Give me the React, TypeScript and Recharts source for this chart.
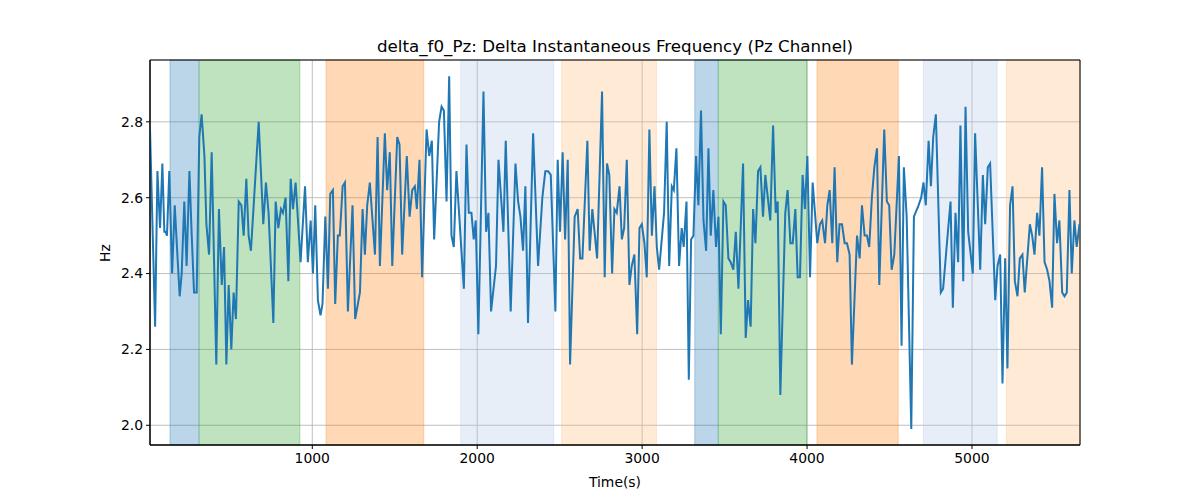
import { LineChart, Line, XAxis, YAxis, CartesianGrid, ReferenceArea } from 'recharts';

// time stamps (s) and delta frequency (Hz)
const times = [
  16, 47, 61, 77, 91, 103, 111, 119, 133, 150, 166, 182, 196, 208, 224, 238, 255, 269, 283, 299,
  315, 329, 346, 358, 374, 390, 418, 434, 451, 465, 479, 493, 509, 523, 537, 554, 570, 584, 600, 614,
  628, 675, 703, 719, 735, 764, 778, 794, 810, 822, 838, 855, 869, 883, 899, 929, 956, 973, 990, 1004,
  1018, 1034, 1050, 1062, 1079, 1095, 1109, 1125, 1139, 1155, 1167, 1184, 1198, 1216, 1244, 1260, 1289, 1305, 1319, 1333,
  1349, 1380, 1396, 1410, 1440, 1454, 1470, 1485, 1515, 1529, 1545, 1573, 1590, 1606, 1622, 1634, 1650, 1666, 1693, 1709,
  1725, 1739, 1769, 1784, 1798, 1814, 1830, 1844, 1858, 1874, 1919, 1935, 1949, 1965, 1979, 1991, 2007, 2038, 2054, 2068,
  2084, 2114, 2129, 2159, 2173, 2203, 2232, 2248, 2262, 2278, 2292, 2308, 2339, 2369, 2395, 2413, 2430, 2446, 2474, 2488,
  2502, 2518, 2533, 2549, 2563, 2591, 2609, 2624, 2638, 2668, 2682, 2698, 2727, 2757, 2773, 2787, 2801, 2818, 2832, 2846,
  2863, 2877, 2891, 2907, 2923, 2937, 2953, 2970, 2984, 2998, 3014, 3028, 3044, 3059, 3075, 3089, 3103, 3133, 3149, 3164,
  3180, 3192, 3208, 3224, 3240, 3252, 3269, 3283, 3297, 3311, 3327, 3341, 3357, 3372, 3388, 3402, 3416, 3432, 3448, 3463,
  3477, 3493, 3507, 3523, 3537, 3553, 3568, 3584, 3612, 3628, 3642, 3658, 3673, 3687, 3703, 3717, 3733, 3747, 3777, 3794,
  3810, 3822, 3838, 3868, 3882, 3899, 3913, 3929, 3943, 3957, 3973, 3987, 4002, 4018, 4034, 4048, 4062, 4078, 4092, 4109,
  4123, 4137, 4153, 4167, 4183, 4197, 4212, 4228, 4242, 4258, 4272, 4303, 4319, 4333, 4349, 4363, 4377, 4393, 4408, 4424,
  4438, 4468, 4484, 4498, 4513, 4529, 4557, 4573, 4587, 4604, 4632, 4648, 4676, 4692, 4706, 4720, 4737, 4751, 4765, 4781,
  4811, 4825, 4856, 4870, 4884, 4900, 4916, 4930, 4947, 4961, 4977, 5005, 5019, 5050, 5066, 5080, 5096, 5110, 5141, 5155,
  5171, 5185, 5201, 5215, 5231, 5246, 5260, 5276, 5290, 5306, 5320, 5351, 5365, 5379, 5395, 5409, 5425, 5440, 5456, 5470,
  5486, 5500, 5516, 5530, 5547, 5561, 5575, 5591, 5605, 5621, 5635, 5652,
];

const hzValues = [
  2.78, 2.26, 2.67, 2.52, 2.69, 2.51, 2.51, 2.50, 2.67, 2.40, 2.58, 2.45, 2.34, 2.40, 2.59, 2.42, 2.67, 2.50, 2.35, 2.35,
  2.76, 2.82, 2.71, 2.53, 2.45, 2.72, 2.16, 2.57, 2.37, 2.47, 2.16, 2.37, 2.20, 2.35, 2.28, 2.59, 2.58, 2.50, 2.65, 2.50,
  2.46, 2.80, 2.53, 2.64, 2.56, 2.27, 2.59, 2.52, 2.57, 2.56, 2.60, 2.38, 2.65, 2.57, 2.64, 2.43, 2.63, 2.43, 2.54, 2.40,
  2.58, 2.33, 2.29, 2.32, 2.55, 2.36, 2.61, 2.62, 2.32, 2.50, 2.50, 2.63, 2.64, 2.30, 2.58, 2.28, 2.35, 2.57, 2.45, 2.58,
  2.64, 2.45, 2.76, 2.42, 2.77, 2.62, 2.72, 2.42, 2.76, 2.74, 2.45, 2.71, 2.55, 2.62, 2.63, 2.57, 2.70, 2.39, 2.78, 2.71,
  2.75, 2.49, 2.80, 2.84, 2.83, 2.59, 2.92, 2.50, 2.47, 2.67, 2.36, 2.74, 2.56, 2.56, 2.49, 2.54, 2.24, 2.88, 2.51, 2.56,
  2.30, 2.42, 2.70, 2.51, 2.75, 2.30, 2.69, 2.59, 2.55, 2.46, 2.63, 2.27, 2.77, 2.42, 2.60, 2.67, 2.67, 2.66, 2.30, 2.70,
  2.51, 2.72, 2.49, 2.70, 2.16, 2.55, 2.57, 2.44, 2.44, 2.75, 2.46, 2.57, 2.44, 2.88, 2.39, 2.69, 2.66, 2.40, 2.57, 2.56,
  2.63, 2.49, 2.52, 2.70, 2.37, 2.42, 2.45, 2.24, 2.52, 2.53, 2.48, 2.39, 2.78, 2.50, 2.63, 2.47, 2.41, 2.56, 2.80, 2.42,
  2.63, 2.62, 2.73, 2.42, 2.52, 2.47, 2.59, 2.12, 2.49, 2.50, 2.71, 2.58, 2.83, 2.54, 2.46, 2.73, 2.50, 2.62, 2.47, 2.55,
  2.24, 2.59, 2.58, 2.44, 2.43, 2.41, 2.51, 2.36, 2.69, 2.23, 2.33, 2.26, 2.57, 2.48, 2.67, 2.68, 2.55, 2.66, 2.54, 2.79,
  2.56, 2.59, 2.08, 2.56, 2.62, 2.48, 2.48, 2.57, 2.39, 2.39, 2.66, 2.57, 2.71, 2.39, 2.64, 2.56, 2.48, 2.53, 2.54, 2.48,
  2.58, 2.62, 2.48, 2.68, 2.43, 2.53, 2.53, 2.48, 2.48, 2.45, 2.16, 2.50, 2.44, 2.58, 2.50, 2.50, 2.47, 2.60, 2.68, 2.73,
  2.37, 2.78, 2.59, 2.58, 2.41, 2.45, 2.71, 2.21, 2.68, 2.55, 1.99, 2.55, 2.58, 2.60, 2.64, 2.58, 2.75, 2.63, 2.76, 2.82,
  2.35, 2.36, 2.52, 2.59, 2.31, 2.56, 2.43, 2.79, 2.38, 2.84, 2.51, 2.40, 2.77, 2.41, 2.66, 2.53, 2.68, 2.69, 2.33, 2.42,
  2.45, 2.11, 2.44, 2.15, 2.58, 2.63, 2.38, 2.34, 2.44, 2.45, 2.35, 2.53, 2.50, 2.45, 2.56, 2.50, 2.68, 2.43, 2.41, 2.38,
  2.31, 2.61, 2.48, 2.54, 2.35, 2.34, 2.35, 2.62, 2.40, 2.54, 2.47, 2.53,
];

// shaded segments
const spanStarts = [137, 315, 1083, 1900, 2512, 3319, 3463, 4060, 4706, 5209];
const spanEnds = [313, 925, 1676, 2464, 3087, 3461, 3999, 4553, 5153, 5655];
const spanColors = ['#1f77b4', '#2ca02c', '#ff7f0e', '#aec7e8', '#ffbb78', '#1f77b4', '#2ca02c', '#ff7f0e', '#aec7e8', '#ffbb78'];

const xTicks = [1000, 2000, 3000, 4000, 5000];
const yTicks = [2.0, 2.2, 2.4, 2.6, 2.8];
const xDomain = [16, 5655];
const yDomain = [1.948, 2.963];

const data = times.map((t, i) => ({ t, v: hzValues[i] }));

const font = 'DejaVu Sans, sans-serif';
const tickStyle = { fontSize: 13.9, fill: '#000', fontFamily: font };

export default function App() {
  return (
    <div style={{ position: 'absolute', left: 0, top: 0, width: 1200, height: 500, background: '#fff', fontFamily: font }}>
      <LineChart
        width={1200}
        height={500}
        data={data}
        margin={{ top: 60, right: 120, bottom: 10, left: 90 }}
      >
        <CartesianGrid stroke="#b0b0b0" strokeWidth={0.8} />
        {spanStarts.map((s, i) => (
          <ReferenceArea
            key={i}
            x1={s}
            x2={spanEnds[i]}
            fill={spanColors[i]}
            fillOpacity={0.3}
            stroke={spanColors[i]}
            strokeOpacity={0.3}
          />
        ))}
        <XAxis
          dataKey="t"
          type="number"
          domain={xDomain}
          ticks={xTicks}
          allowDataOverflow
          height={45}
          tickSize={4}
          tickMargin={4}
          tick={tickStyle}
          stroke="#000"
          tickLine={{ stroke: '#000' }}
          label={{ value: 'Time(s)', position: 'insideBottom', offset: 3, style: { fontSize: 13.9, fill: '#000', fontFamily: font } }}
        />
        <YAxis
          type="number"
          domain={yDomain}
          ticks={yTicks}
          allowDataOverflow
          width={60}
          tickSize={4}
          tickMargin={3}
          tick={tickStyle}
          stroke="#000"
          tickLine={{ stroke: '#000' }}
          tickFormatter={(v: number) => v.toFixed(1)}
        />
        <Line
          type="linear"
          dataKey="v"
          stroke="#1f77b4"
          strokeWidth={2}
          dot={false}
          isAnimationActive={false}
        />
        {/* axes frame */}
        <ReferenceArea
          x1={xDomain[0]}
          x2={xDomain[1]}
          y1={yDomain[0]}
          y2={yDomain[1]}
          fill="none"
          stroke="#000"
          strokeWidth={1}
          ifOverflow="visible"
        />
      </LineChart>
      <div style={{ position: 'absolute', left: 150, width: 930, top: 36, textAlign: 'center', fontSize: 16.7, lineHeight: '20px', color: '#000' }}>
        delta_f0_Pz: Delta Instantaneous Frequency (Pz Channel)
      </div>
      <div style={{ position: 'absolute', left: 105, top: 253, transform: 'translate(-50%, -50%) rotate(-90deg)', fontSize: 13.9, color: '#000', whiteSpace: 'nowrap' }}>
        Hz
      </div>
    </div>
  );
}
